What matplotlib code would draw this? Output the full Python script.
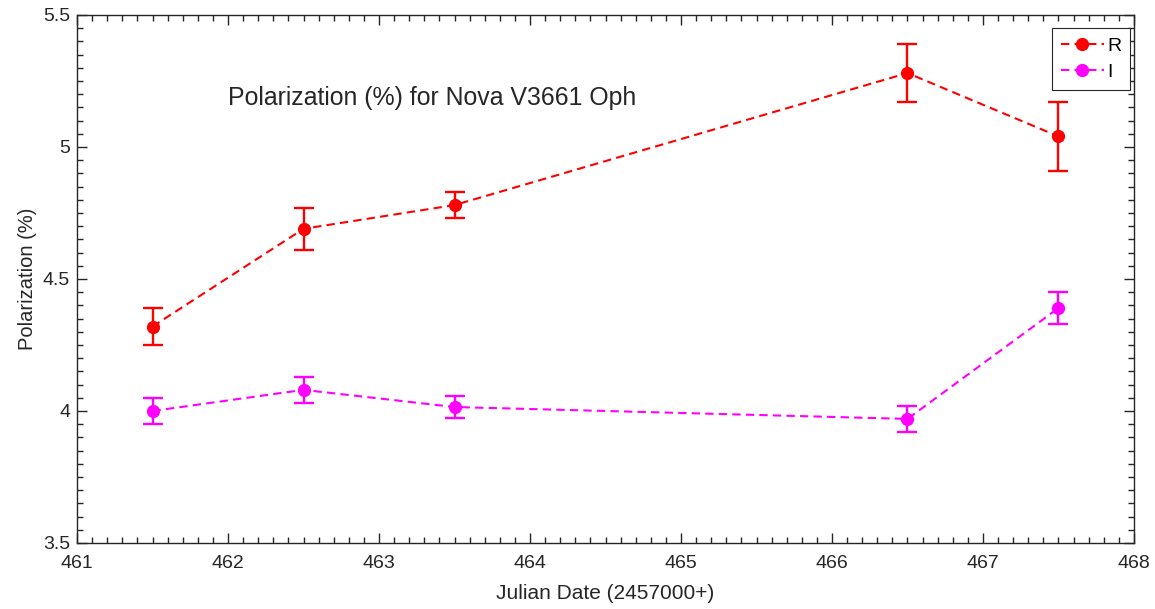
import numpy as np
import matplotlib
matplotlib.use('Agg')
import matplotlib.pyplot as plt
from matplotlib.ticker import MultipleLocator
from matplotlib.lines import Line2D

plt.rcParams['font.family'] = ['Liberation Sans', 'DejaVu Sans']

jd = [461.5, 462.5, 463.5, 466.5, 467.5]
pol_r = [4.32, 4.69, 4.78, 5.28, 5.04]
err_r = [0.07, 0.08, 0.05, 0.11, 0.13]
pol_i = [4.00, 4.08, 4.015, 3.97, 4.39]
err_i = [0.05, 0.05, 0.04, 0.05, 0.06]

fig = plt.figure(figsize=(11.55, 6.09), dpi=100)
ax = fig.add_axes([0.0667, 0.1084, 0.9151, 0.867])

dash = (0, (4, 2.5))
handles = []
for y, e, c, lab in [(pol_r, err_r, '#ff0000', 'R'), (pol_i, err_i, '#ff00ff', 'I')]:
    ax.errorbar(jd, y, yerr=e, color=c, ls=dash, lw=1.5,
                marker='o', ms=8.5, capsize=7.5, capthick=1.7, elinewidth=1.7)
    handles.append(Line2D([], [], color=c, ls=dash, lw=1.5, marker='o', ms=8.5, label=lab))

ax.set_xlim(461, 468)
ax.set_ylim(3.5, 5.5)
ax.xaxis.set_major_locator(MultipleLocator(1))
ax.xaxis.set_minor_locator(MultipleLocator(0.1))
ax.yaxis.set_major_locator(MultipleLocator(0.5))
ax.yaxis.set_minor_locator(MultipleLocator(0.05))
ax.yaxis.set_major_formatter(plt.FuncFormatter(lambda v, p: '%g' % v))
ax.tick_params(which='both', direction='in', top=True, right=True, color='#262626',
               labelsize=14, labelcolor='#262626', pad=5)
ax.tick_params(axis='x', which='major', pad=9)
ax.tick_params(which='major', length=7, width=1)
ax.tick_params(which='minor', length=4, width=1)
for s in ax.spines.values():
    s.set_color('#262626')
    s.set_linewidth(1)

ax.set_xlabel('Julian Date (2457000+)', fontsize=15, color='#262626', labelpad=8)
ax.set_ylabel('Polarization (%)', fontsize=14.5, color='#262626', labelpad=4)
ax.text(462.0, 5.185, 'Polarization (%) for Nova V3661 Oph', fontsize=17.9,
        color='#262626', va='center')

# legend: line + marker only, no error bars
leg = ax.legend(handles=handles, loc='upper right', bbox_to_anchor=(0.9965, 0.975),
                fontsize=14, handlelength=2.2, fancybox=False, framealpha=1,
                edgecolor='#262626', borderaxespad=0, borderpad=0.45,
                handletextpad=0.2, labelspacing=0.45)
leg.get_frame().set_linewidth(0.8)

fig.savefig('out.png', dpi=100)
